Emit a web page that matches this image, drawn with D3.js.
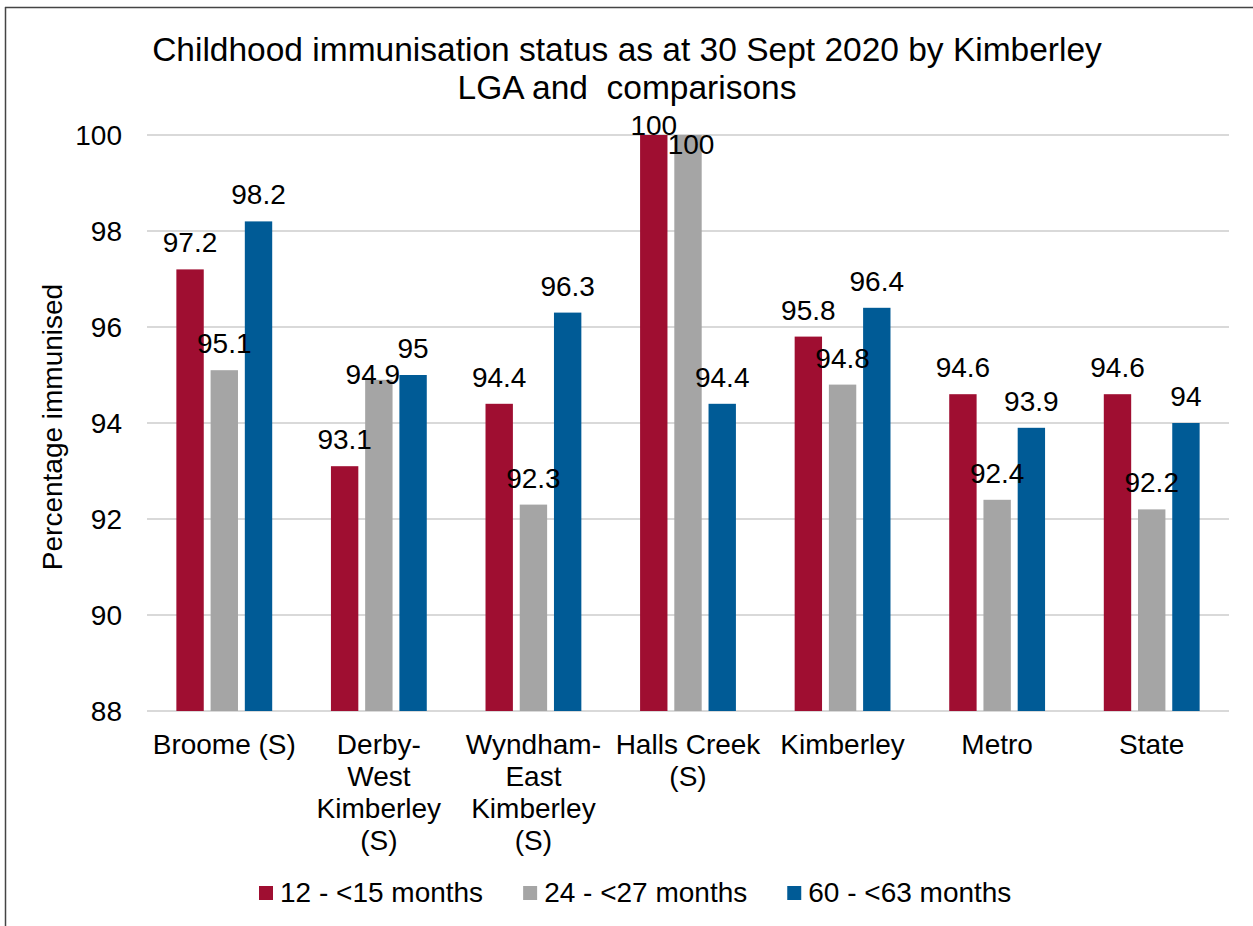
<!DOCTYPE html>
<html lang="en">
<head>
  <meta charset="UTF-8">
  <title>Childhood immunisation status</title>
  <script src="https://d3js.org/d3.v7.min.js"></script>
  <style>
    body { margin: 0; background: #fff; }
    svg { display: block; font-family: "Liberation Sans", Arial, sans-serif; }
  </style>
</head>
<body>
<svg width="1253" height="926"></svg>
<script>
// data
const categories = ["Broome (S)", "Derby-West Kimberley (S)", "Wyndham-East Kimberley (S)",
                    "Halls Creek (S)", "Kimberley", "Metro", "State"];
const categoryLines = [["Broome (S)"], ["Derby-", "West", "Kimberley", "(S)"],
                       ["Wyndham-", "East", "Kimberley", "(S)"], ["Halls Creek", "(S)"],
                       ["Kimberley"], ["Metro"], ["State"]];
const series = ["12 - <15 months", "24 - <27 months", "60 - <63 months"];
const months12 = [97.2, 93.1, 94.4, 100, 95.8, 94.6, 94.6];
const months24 = [95.1, 94.9, 92.3, 100, 94.8, 92.4, 92.2];
const months60 = [98.2, 95, 96.3, 94.4, 96.4, 93.9, 94];
const yTicks = [88, 90, 92, 94, 96, 98, 100];

const colors = ["#9f0e31", "#a5a5a5", "#005b96"];
const values = [months12, months24, months60];

// a few labels that were moved by hand in the original
const labelNudge = {
  "1|1": [-6, 21],
  "3|0": [0, 17],
  "3|1": [3, 36]
};

const svg = d3.select("svg");
const fs = 28;

// frame lines (left and top only)
svg.append("line").attr("x1", 5.5).attr("x2", 5.5).attr("y1", 7).attr("y2", 926)
  .attr("stroke", "#444").attr("stroke-width", 1.5);
svg.append("line").attr("x1", 5).attr("x2", 1253).attr("y1", 7.5).attr("y2", 7.5)
  .attr("stroke", "#444").attr("stroke-width", 1.5);

const x0 = d3.scaleBand().domain(categories).range([147, 1229])
  .paddingInner(0.38).paddingOuter(0.19);
const x1 = d3.scaleBand().domain(d3.range(series.length)).range([0, x0.bandwidth()])
  .paddingInner(0.2);
const y = d3.scaleLinear().domain([88, 100]).range([711, 135]);

// gridlines
svg.append("g").selectAll("line").data(yTicks).join("line")
  .attr("x1", 147).attr("x2", 1229)
  .attr("y1", d => y(d)).attr("y2", d => y(d))
  .attr("stroke", "#d9d9d9").attr("stroke-width", 2);

// y tick labels
svg.append("g").selectAll("text").data(yTicks).join("text")
  .attr("x", 122).attr("y", d => y(d)).attr("dy", "0.36em")
  .attr("text-anchor", "end").attr("font-size", fs).attr("fill", "#000")
  .text(d => d);

// bars
const rows = [];
categories.forEach((c, i) => {
  series.forEach((s, j) => rows.push({ c, i, j, v: values[j][i] }));
});

svg.append("g").selectAll("rect").data(rows).join("rect")
  .attr("x", d => x0(d.c) + x1(d.j))
  .attr("width", x1.bandwidth())
  .attr("y", d => y(d.v))
  .attr("height", d => y(88) - y(d.v))
  .attr("fill", d => colors[d.j]);

// value labels
svg.append("g").selectAll("text").data(rows).join("text")
  .attr("x", d => x0(d.c) + x1(d.j) + x1.bandwidth() / 2 + (labelNudge[d.i + "|" + d.j] || [0, 0])[0])
  .attr("y", d => y(d.v) - 17 + (labelNudge[d.i + "|" + d.j] || [0, 0])[1])
  .attr("text-anchor", "middle").attr("font-size", fs).attr("fill", "#000")
  .text(d => d.v);

// category labels
const cat = svg.append("g").selectAll("text").data(categories).join("text")
  .attr("text-anchor", "middle").attr("font-size", fs).attr("fill", "#000");
cat.each(function(c, i) {
  d3.select(this).selectAll("tspan").data(categoryLines[i]).join("tspan")
    .attr("x", x0(c) + x0.bandwidth() / 2)
    .attr("y", (d, k) => 754 + k * 32)
    .text(d => d);
});

// y axis title
svg.append("text")
  .attr("transform", "translate(62,427) rotate(-90)")
  .attr("text-anchor", "middle").attr("font-size", fs).attr("fill", "#000")
  .text("Percentage immunised");

// title
const title = svg.append("text").attr("text-anchor", "middle")
  .attr("font-size", 33.5).attr("fill", "#000");
title.append("tspan").attr("x", 627).attr("y", 61)
  .text("Childhood immunisation status as at 30 Sept 2020 by Kimberley");
title.append("tspan").attr("x", 627).attr("y", 99)
  .style("white-space", "pre")
  .text("LGA and  comparisons");

// legend
const legend = svg.append("g");
let lx = 259;
series.forEach((s, j) => {
  legend.append("rect").attr("x", lx).attr("y", 886).attr("width", 14).attr("height", 14)
    .attr("fill", colors[j]);
  const t = legend.append("text").attr("x", lx + 21).attr("y", 902)
    .attr("font-size", fs).attr("fill", "#000").text(s);
  lx += 21 + t.node().getComputedTextLength() + 40;
});
</script>
</body>
</html>
